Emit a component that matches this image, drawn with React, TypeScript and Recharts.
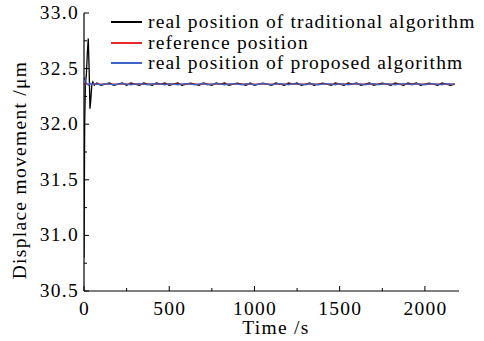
import * as React from "react"
import { LineChart, Line, XAxis, YAxis, Label } from "recharts"

const FONT = '"Liberation Serif", serif'

// time (s)
const times = [
  0, 4, 8, 14, 20, 25, 30, 35, 40, 46, 52, 60,
  75, 100, 125, 150, 175, 200, 225, 250, 275, 300,
  325, 350, 375, 400, 425, 450, 475, 500, 525, 550,
  575, 600, 625, 650, 675, 700, 725, 750, 775, 800,
  825, 850, 875, 900, 925, 950, 975, 1000, 1025, 1050,
  1075, 1100, 1125, 1150, 1175, 1200, 1225, 1250, 1275, 1300,
  1325, 1350, 1375, 1400, 1425, 1450, 1475, 1500, 1525, 1550,
  1575, 1600, 1625, 1650, 1675, 1700, 1725, 1750, 1775, 1800,
  1825, 1850, 1875, 1900, 1925, 1950, 1975, 2000, 2025, 2050,
  2075, 2100, 2125, 2150, 2175,
]

// real position of traditional algorithm (µm)
const traditional = [
  30.8, 32.0, 32.35, 32.45, 32.65, 32.77, 32.5, 32.14, 32.22, 32.36, 32.38, 32.35,
  32.37, 32.35, 32.36, 32.37, 32.35, 32.36, 32.37, 32.35, 32.37, 32.36,
  32.35, 32.37, 32.36, 32.35, 32.37, 32.36, 32.37, 32.35, 32.36, 32.37,
  32.35, 32.36, 32.37, 32.36, 32.35, 32.37, 32.36, 32.35, 32.37, 32.36,
  32.37, 32.35, 32.36, 32.37, 32.36, 32.35, 32.37, 32.35, 32.36, 32.37,
  32.36, 32.35, 32.37, 32.36, 32.35, 32.37, 32.36, 32.37, 32.35, 32.36,
  32.37, 32.35, 32.36, 32.37, 32.36, 32.35, 32.37, 32.36, 32.35, 32.37,
  32.36, 32.37, 32.35, 32.36, 32.37, 32.35, 32.36, 32.37, 32.36, 32.35,
  32.37, 32.36, 32.35, 32.37, 32.36, 32.37, 32.35, 32.36, 32.37, 32.36,
  32.35, 32.37, 32.36, 32.35, 32.36,
]

// real position of proposed algorithm (µm)
const proposed = [
  32.4, 32.42, 32.39, 32.37, 32.36, 32.35, 32.36, 32.37, 32.36, 32.355, 32.36, 32.365,
  32.36, 32.355, 32.365, 32.36, 32.355, 32.36, 32.365, 32.36, 32.355, 32.36,
  32.365, 32.36, 32.355, 32.365, 32.36, 32.36, 32.355, 32.365, 32.36, 32.355,
  32.36, 32.365, 32.36, 32.355, 32.36, 32.365, 32.355, 32.36, 32.365, 32.36,
  32.355, 32.36, 32.365, 32.36, 32.355, 32.365, 32.36, 32.355, 32.36, 32.365,
  32.36, 32.355, 32.36, 32.365, 32.36, 32.355, 32.365, 32.36, 32.36, 32.355,
  32.365, 32.36, 32.355, 32.36, 32.365, 32.36, 32.355, 32.365, 32.36, 32.355,
  32.36, 32.365, 32.36, 32.355, 32.36, 32.365, 32.355, 32.36, 32.365, 32.36,
  32.355, 32.36, 32.365, 32.36, 32.355, 32.365, 32.36, 32.355, 32.36, 32.365,
  32.36, 32.355, 32.365, 32.36, 32.36,
]

// reference position (µm)
const refTimes = [0, 2175]
const reference = [32.36, 32.36]

const xTicks = [0, 250, 500, 750, 1000, 1250, 1500, 1750, 2000]
const yTicks = [30.5, 30.75, 31, 31.25, 31.5, 31.75, 32, 32.25, 32.5, 32.75, 33]

const series = [
  { name: "real position of traditional algorithm", color: "#000000" },
  { name: "reference position", color: "#e8282a" },
  { name: "real position of proposed algorithm", color: "#3c64c8" },
]

const data = times.map((t, i) => ({ t, traditional: traditional[i], proposed: proposed[i] }))
const refData = refTimes.map((t, i) => ({ t, reference: reference[i] }))

const textStyle = { fontSize: 19.5, fontFamily: FONT, fill: "#000", letterSpacing: 1.3 }

function XTick({ x, y, payload }: any) {
  const v = payload.value
  const major = v % 500 === 0
  return (
    <g>
      <line x1={x} x2={x} y1={y} y2={y - (major ? 5 : 3)} stroke="#000" strokeWidth={1} />
      {major && (
        <text x={x + 0.6} y={y + 24} textAnchor="middle" style={textStyle}>
          {v}
        </text>
      )}
    </g>
  )
}

function YTick({ x, y, payload }: any) {
  const v = payload.value
  const major = Math.abs(v * 2 - Math.round(v * 2)) < 1e-6
  return (
    <g>
      <line x1={x} x2={x + (major ? 5 : 3)} y1={y} y2={y} stroke="#000" strokeWidth={1} />
      {major && (
        <text x={x - 5} y={y + 6} textAnchor="end" style={textStyle}>
          {v.toFixed(1)}
        </text>
      )}
    </g>
  )
}

export default function App() {
  return (
    <div style={{ position: "absolute", left: 0, top: 0, width: 484, height: 341, background: "#fff" }}>
      <LineChart width={484} height={341} data={data} margin={{ top: 13, right: 25, bottom: 0, left: 0 }}>
        <XAxis
          dataKey="t"
          type="number"
          domain={[0, 2200]}
          ticks={xTicks}
          interval={0}
          height={50}
          tickSize={0}
          tickMargin={0}
          tickLine={false}
          tick={<XTick />}
          axisLine={{ stroke: "#000", strokeWidth: 1.2 }}
          allowDataOverflow
        >
          <Label
            content={() => (
              <text x={276} y={334} textAnchor="middle" style={textStyle}>
                Time /s
              </text>
            )}
          />
        </XAxis>
        <YAxis
          type="number"
          domain={[30.5, 33]}
          ticks={yTicks}
          interval={0}
          width={84}
          tickSize={0}
          tickMargin={0}
          tickLine={false}
          tick={<YTick />}
          axisLine={{ stroke: "#000", strokeWidth: 1.2 }}
          allowDataOverflow
        >
          <Label
            content={() => (
              <text
                x={19}
                y={170}
                transform="rotate(-90 19 170)"
                textAnchor="middle"
                dominantBaseline="central"
                style={textStyle}
              >
                Displace movement /μm
              </text>
            )}
          />
        </YAxis>
        <Line dataKey="traditional" stroke={series[0].color} strokeWidth={1.3} dot={false} isAnimationActive={false} />
        <Line data={refData} dataKey="reference" stroke={series[1].color} strokeWidth={1.3} dot={false} isAnimationActive={false} />
        <Line dataKey="proposed" stroke={series[2].color} strokeWidth={1.3} dot={false} isAnimationActive={false} />
      </LineChart>
      <div style={{ position: "absolute", left: 111, top: 12, fontFamily: FONT, fontSize: 19.5, letterSpacing: 1.15, color: "#000" }}>
        {series.map((s) => (
          <div key={s.name} style={{ display: "flex", alignItems: "center", height: 20.5, whiteSpace: "nowrap" }}>
            <div style={{ width: 31, height: 2, background: s.color, marginRight: 6 }} />
            <span style={{ lineHeight: "20.5px" }}>{s.name}</span>
          </div>
        ))}
      </div>
    </div>
  )
}
